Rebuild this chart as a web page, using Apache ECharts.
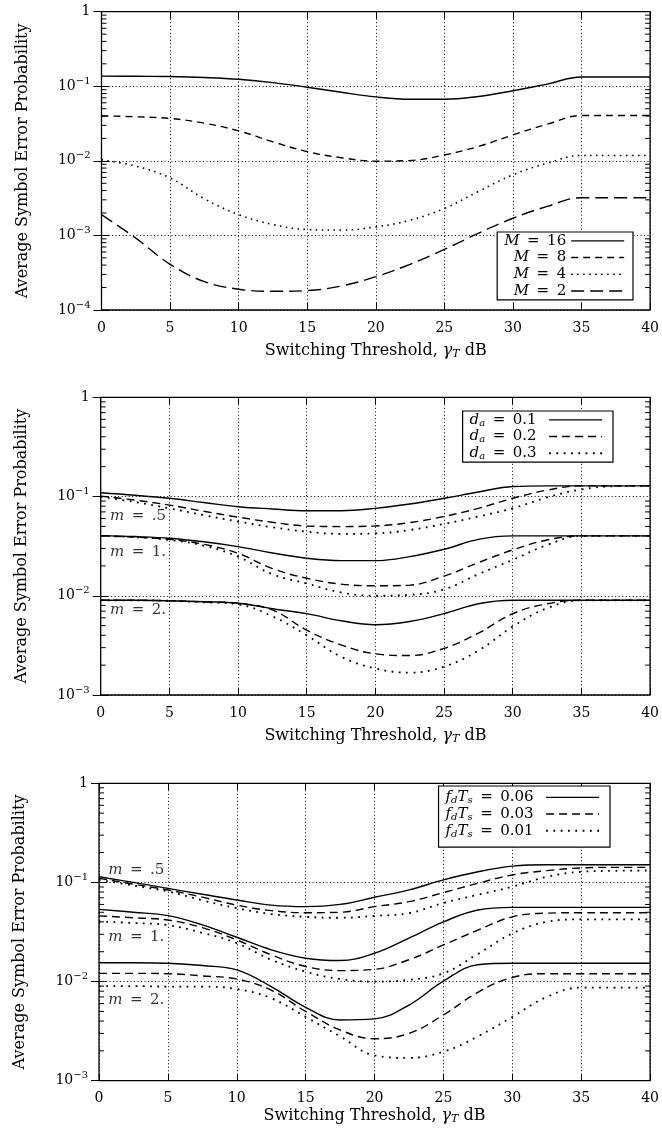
<!DOCTYPE html>
<html><head><meta charset="utf-8">
<script src="https://cdn.jsdelivr.net/npm/echarts@6/dist/echarts.min.js"></script>
<style>html,body{margin:0;padding:0;background:#fff}#c{width:662px;height:1135px}</style>
</head><body><div id="c"></div>
<script>
// ---- data ----
const X = [0,2.5,5,7.5,10,12.5,15,17.5,20,22.5,25,27.5,30,32.5,35,37.5,40];

const P1_M16 = [0.137,0.136,0.135,0.131,0.124,0.112,0.097,0.083,0.072,0.067,0.067,0.073,0.087,0.107,0.133,0.133,0.133];
const P1_M8  = [0.040,0.039,0.037,0.032,0.0252,0.018,0.0133,0.011,0.0099,0.0101,0.012,0.0156,0.0223,0.031,0.0405,0.0405,0.0405];
const P1_M4  = [0.0103,0.0085,0.0059,0.0031,0.0019,0.0014,0.0012,0.00118,0.0013,0.0016,0.0023,0.0039,0.0065,0.0093,0.0118,0.0118,0.0118];
const P1_M2  = [0.0019,0.00092,0.00041,0.00024,0.00019,0.000178,0.000182,0.00021,0.00028,0.00041,0.00065,0.00107,0.0017,0.00245,0.0032,0.0032,0.0032];
const P1_NAMES = ['M = 16','M = 8','M = 4','M = 2'];

const P2_M05_D1 = [0.109,0.103,0.096,0.087,0.079,0.075,0.072,0.072,0.076,0.084,0.096,0.111,0.126,0.128,0.128,0.128,0.128];
const P2_M05_D2 = [0.101,0.092,0.082,0.071,0.062,0.055,0.0505,0.0498,0.0505,0.0546,0.063,0.076,0.096,0.116,0.128,0.128,0.128];
const P2_M05_D3 = [0.099,0.088,0.076,0.065,0.056,0.049,0.0443,0.042,0.0425,0.046,0.053,0.063,0.076,0.098,0.118,0.127,0.128];
const P2_M1_D1  = [0.0404,0.0395,0.038,0.035,0.0313,0.027,0.0239,0.0226,0.0226,0.0248,0.0294,0.037,0.0401,0.0401,0.0401,0.0401,0.0401];
const P2_M1_D2  = [0.0402,0.039,0.037,0.033,0.0268,0.0188,0.015,0.0131,0.0126,0.0128,0.0158,0.0216,0.029,0.0365,0.0401,0.0401,0.0401];
const P2_M1_D3  = [0.0401,0.039,0.0365,0.032,0.0248,0.0165,0.0133,0.0108,0.0100,0.0102,0.0116,0.0165,0.023,0.0325,0.0401,0.0401,0.0401];
const P2_M2_D1  = [0.009,0.009,0.0089,0.0087,0.0084,0.0074,0.0066,0.0056,0.0051,0.0055,0.0066,0.0083,0.009,0.009,0.009,0.009,0.009];
const P2_M2_D2  = [0.009,0.009,0.0089,0.0087,0.0084,0.0072,0.0045,0.0032,0.0026,0.0025,0.00295,0.0042,0.0066,0.0083,0.009,0.009,0.009];
const P2_M2_D3  = [0.009,0.009,0.0089,0.0086,0.0082,0.0062,0.004,0.00243,0.00185,0.00168,0.00193,0.0028,0.0049,0.0075,0.009,0.009,0.009];
const P2_NAMES = ['d_a = 0.1','d_a = 0.2','d_a = 0.3'];
const P2_LABELS = [[0.67,0.063,'m = .5'],[0.67,0.0273,'m = 1.'],[0.67,0.0072,'m = 2.']];

const P3_M05_F06 = [0.114,0.1,0.087,0.076,0.0665,0.059,0.057,0.06,0.0708,0.084,0.106,0.128,0.146,0.151,0.151,0.151,0.151];
const P3_M05_F03 = [0.110,0.096,0.084,0.071,0.059,0.052,0.0495,0.05,0.057,0.064,0.079,0.098,0.119,0.1315,0.14,0.142,0.142];
const P3_M05_F01 = [0.106,0.093,0.081,0.066,0.055,0.048,0.045,0.044,0.046,0.049,0.062,0.075,0.0906,0.114,0.128,0.131,0.132];
const P3_M1_F06  = [0.0535,0.05,0.0462,0.0373,0.028,0.0209,0.0172,0.0163,0.0193,0.0274,0.040,0.0527,0.056,0.056,0.056,0.056,0.056];
const P3_M1_F03  = [0.046,0.044,0.0418,0.035,0.0263,0.0186,0.0142,0.0129,0.0133,0.0166,0.0234,0.033,0.045,0.049,0.0495,0.0495,0.0495];
const P3_M1_F01  = [0.0402,0.039,0.0371,0.031,0.0244,0.0166,0.0126,0.0106,0.0100,0.0104,0.0121,0.019,0.0306,0.04,0.0424,0.0424,0.0424];
const P3_M2_F06  = [0.0155,0.0155,0.0153,0.0145,0.0131,0.0089,0.0055,0.0041,0.0042,0.0058,0.0101,0.0148,0.0153,0.0153,0.0153,0.0153,0.0153];
const P3_M2_F03  = [0.0121,0.0121,0.012,0.0114,0.0106,0.0082,0.005,0.00325,0.00265,0.003,0.0046,0.0078,0.011,0.012,0.012,0.012,0.012];
const P3_M2_F01  = [0.009,0.009,0.0089,0.0089,0.0084,0.0068,0.0044,0.0028,0.0018,0.0017,0.00196,0.0028,0.0044,0.007,0.0087,0.0087,0.0087];
const P3_NAMES = ['fdTs = 0.06','fdTs = 0.03','fdTs = 0.01'];
const P3_LABELS = [[0.67,0.134,'m = .5'],[0.67,0.0278,'m = 1.'],[0.67,0.00653,'m = 2.']];

const Y_RANGE_P1 = [1e-4, 1];
const Y_RANGE_P23 = [1e-3, 1];
const MINOR_MULT = [2,3,4,5,6,7,8,9];
const DECADES_P1 = [1e-4,1e-3,1e-2,1e-1];
const DECADES_P23 = [1e-3,1e-2,1e-1];

// ---- styling ----
const F = 'DejaVu Serif';
const BLACK = '#000';
const SOLID = {type:'solid', width:1.4};
const DASH1 = {type:[7,5], width:1.4};
const DOT1 = {type:[1.5,4.5], width:1.6};
const LDASH = {type:[13,6], width:1.4};
const DASH2 = {type:[8,5], width:1.4};
const DOT2 = {type:[1.8,5.5], width:1.8};

const GRIDS = [
  {left:101.5, top:11.7, width:550, height:298.3},
  {left:100.7, top:397.3, width:551, height:297.7},
  {left:99, top:783.3, width:551.7, height:297.4}
];

const EN = '\u2002';
const richBase = {
  i: {fontStyle:'italic', fontFamily:F, fontSize:15, color:BLACK},
  sub: {fontStyle:'italic', fontFamily:F, fontSize:10, color:BLACK, verticalAlign:'bottom', lineHeight:11}
};

function fmtLegend(name){
  if (name.startsWith('M')) return '{i|M}' + EN + '=' + EN + name.split('= ')[1];
  if (name.startsWith('d_a')) return '{i|d}{sub|a}' + EN + '=' + EN + name.split('= ')[1] + EN;
  return '{i|f}{sub|d}{i|T}{sub|s}' + EN + '=' + EN + name.split('= ')[1] + EN;
}
function fmtM(t){ return '{i|m}' + EN + '=' + EN + t.split('= ')[1]; }

function pts(ys){ return X.map((x,i)=>[x, ys[i]]); }
function line(name, gi, ys, ls){
  return {type:'line', name, xAxisIndex:2*gi, yAxisIndex:2*gi, data:pts(ys),
    symbol:'none', smooth:0.4, lineStyle:Object.assign({color:BLACK}, ls),
    itemStyle:{color:BLACK}, silent:true, z:3, animation:false};
}

function xAxes(gi, gap){
  return [{
    gridIndex:gi, type:'value', min:0, max:40, interval:5, position:'bottom',
    axisLine:{show:false},
    axisTick:{inside:true, length:7, lineStyle:{color:BLACK, width:1}},
    axisLabel:{fontFamily:F, fontSize:14, color:BLACK, margin:11},
    splitLine:{show:true, lineStyle:{color:BLACK, type:[1,2.5], width:1}},
    name:'Switching Threshold, {g|γ}{sub|T} dB', nameLocation:'middle', nameGap:gap,
    nameTextStyle:{fontFamily:F, fontSize:16, color:BLACK, lineHeight:18,
      rich:{g:{fontStyle:'italic', fontFamily:F, fontSize:16, color:BLACK},
            sub:{fontStyle:'italic', fontFamily:F, fontSize:11, color:BLACK, verticalAlign:'bottom', lineHeight:12}}}
  },{
    gridIndex:gi, type:'value', min:0, max:40, interval:5, position:'top',
    axisLine:{show:false},
    axisTick:{inside:true, length:7, lineStyle:{color:BLACK, width:1}},
    axisLabel:{show:false}, splitLine:{show:false}
  }];
}
function yAxes(gi, range){
  return [{
    gridIndex:gi, type:'log', logBase:10, min:range[0], max:range[1], position:'left',
    axisLine:{show:false},
    axisTick:{inside:true, length:8, lineStyle:{color:BLACK, width:1}},
    axisLabel:{fontFamily:F, fontSize:14, color:BLACK, margin:11, lineHeight:20,
      formatter:(v)=>{ const e = Math.round(Math.log10(v)); return e===0 ? '1' : '10{sup|\u2212' + (-e) + '}'; },
      rich:{sup:{fontFamily:F, fontSize:10, color:BLACK, verticalAlign:'top', lineHeight:10}}},
    splitLine:{show:true, lineStyle:{color:BLACK, type:[1,2.5], width:1}},
    name:'Average Symbol Error Probability', nameLocation:'middle', nameGap:71, nameRotate:90,
    nameTextStyle:{fontFamily:F, fontSize:16, color:BLACK}
  },{
    gridIndex:gi, type:'log', logBase:10, min:range[0], max:range[1], position:'right',
    axisLine:{show:false},
    axisTick:{inside:true, length:8, lineStyle:{color:BLACK, width:1}},
    axisLabel:{show:false}, splitLine:{show:false}
  }];
}
function minorTicks(gi, decades){
  const data = [];
  decades.forEach(d => MINOR_MULT.forEach(m => data.push([0, d*m])));
  return {type:'custom', xAxisIndex:2*gi, yAxisIndex:2*gi, data, silent:true, clip:false, z:4,
    encode:{x:0, y:1}, animation:false,
    renderItem:(params, api)=>{
      const v = api.value(1);
      const pL = api.coord([0, v]); const pR = api.coord([40, v]);
      const st = {stroke:BLACK, lineWidth:1};
      return {type:'group', children:[
        {type:'line', shape:{x1:pL[0], y1:pL[1], x2:pL[0]+5, y2:pL[1]}, style:st},
        {type:'line', shape:{x1:pR[0]-5, y1:pR[1], x2:pR[0], y2:pR[1]}, style:st}
      ]};
    }};
}
function annot(gi, labels){
  return {type:'scatter', xAxisIndex:2*gi, yAxisIndex:2*gi, symbolSize:0, silent:true, z:5,
    data:labels.map(l=>({value:[l[0], l[1]], txt:l[2]})), animation:false,
    label:{show:true, position:'right', distance:0, formatter:(p)=>fmtM(p.data.txt),
      fontFamily:F, fontSize:15, color:BLACK, rich:richBase}};
}
function legend(names, right, top, padding){
  return {orient:'vertical', right, top, padding, itemGap:0, itemWidth:53, itemHeight:12,
    align:'right', backgroundColor:'#fff', borderColor:BLACK, borderWidth:1.2, borderRadius:0,
    data:names, formatter:fmtLegend, selectedMode:false, z:10,
    textStyle:{fontFamily:F, fontSize:15, color:BLACK, lineHeight:16.7, rich:richBase},
    itemStyle:{opacity:0, color:'rgba(0,0,0,0)', borderWidth:0},
    lineStyle:{width:'inherit', type:'inherit', color:'inherit'}};
}

const series = [
  line(P1_NAMES[0],0,P1_M16,SOLID), line(P1_NAMES[1],0,P1_M8,DASH1),
  line(P1_NAMES[2],0,P1_M4,DOT1), line(P1_NAMES[3],0,P1_M2,LDASH),
  line(P2_NAMES[0],1,P2_M05_D1,SOLID), line(P2_NAMES[1],1,P2_M05_D2,DASH2), line(P2_NAMES[2],1,P2_M05_D3,DOT2),
  line(P2_NAMES[0],1,P2_M1_D1,SOLID), line(P2_NAMES[1],1,P2_M1_D2,DASH2), line(P2_NAMES[2],1,P2_M1_D3,DOT2),
  line(P2_NAMES[0],1,P2_M2_D1,SOLID), line(P2_NAMES[1],1,P2_M2_D2,DASH2), line(P2_NAMES[2],1,P2_M2_D3,DOT2),
  line(P3_NAMES[0],2,P3_M05_F06,SOLID), line(P3_NAMES[1],2,P3_M05_F03,DASH2), line(P3_NAMES[2],2,P3_M05_F01,DOT2),
  line(P3_NAMES[0],2,P3_M1_F06,SOLID), line(P3_NAMES[1],2,P3_M1_F03,DASH2), line(P3_NAMES[2],2,P3_M1_F01,DOT2),
  line(P3_NAMES[0],2,P3_M2_F06,SOLID), line(P3_NAMES[1],2,P3_M2_F03,DASH2), line(P3_NAMES[2],2,P3_M2_F01,DOT2),
  minorTicks(0, DECADES_P1), minorTicks(1, DECADES_P23), minorTicks(2, DECADES_P23),
  annot(1, P2_LABELS), annot(2, P3_LABELS)
];

const chart = echarts.init(document.getElementById('c'), null, {renderer:'canvas'});
chart.setOption({
  animation:false,
  backgroundColor:'#fff',
  grid: GRIDS.map(g=>Object.assign({show:true, borderColor:BLACK, borderWidth:1.3, backgroundColor:'transparent'}, g)),
  xAxis: [].concat(xAxes(0, 32), xAxes(1, 32), xAxes(2, 26)),
  yAxis: [].concat(yAxes(0, Y_RANGE_P1), yAxes(1, Y_RANGE_P23), yAxes(2, Y_RANGE_P23)),
  legend: [
    legend(P1_NAMES, 29, 232, [0.5, 8, 0.5, 7]),
    legend(P2_NAMES, 49, 411, [0.5, 10, 0.5, 7]),
    legend(P3_NAMES, 52, 786, [3, 10, 8, 7])
  ],
  series
});
</script>
</body></html>
